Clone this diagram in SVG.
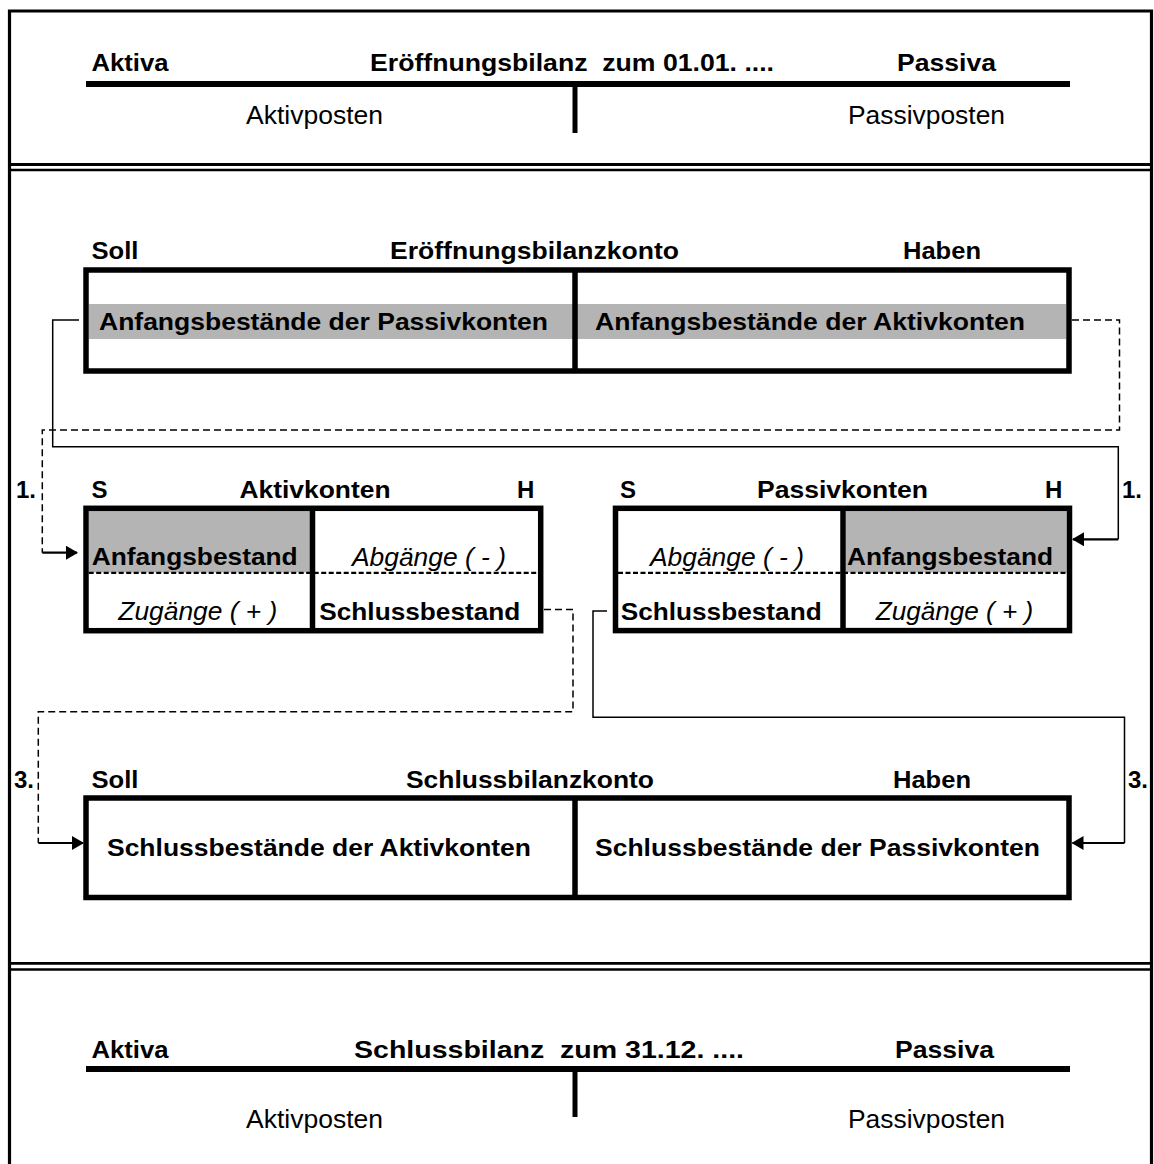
<svg xmlns="http://www.w3.org/2000/svg" width="1154" height="1164" viewBox="0 0 1154 1164">
<style>
.b{font-family:"Liberation Sans",Arial,sans-serif;font-weight:bold;font-size:24px;fill:#000}
.r{font-family:"Liberation Sans",Arial,sans-serif;font-size:25.5px;fill:#000}
.i{font-family:"Liberation Sans",Arial,sans-serif;font-style:italic;font-size:25px;fill:#000}
.box{fill:none;stroke:#000;stroke-width:5.5}
.div{stroke:#000;stroke-width:5.5}
.thin{fill:none;stroke:#000;stroke-width:1.5}
.dash{fill:none;stroke:#000;stroke-width:1.5;stroke-dasharray:7 4}
.arrow{stroke:#000;stroke-width:2.2}
.gray{fill:#b4b4b4}
.inner{stroke:#000;stroke-width:2.3;stroke-dasharray:5 2.5}
.frame{fill:none;stroke:#000;stroke-width:3.2}
.tline{stroke:#000;stroke-width:6}
.tvert{stroke:#000;stroke-width:5}
</style>
<defs>
<marker id="arr" viewBox="0 0 12 14" refX="11" refY="7" markerWidth="12" markerHeight="14" markerUnits="userSpaceOnUse" orient="auto">
<path d="M0,0 L12,7 L0,14 z" fill="#000"/>
</marker>
</defs>
<rect width="1154" height="1164" fill="#fff"/>

<g id="frame">
<path class="frame" d="M9.5,1170 V11 H1151.5 V1170"/>
<line x1="9" y1="164.5" x2="1152" y2="164.5" stroke="#000" stroke-width="3"/>
<line x1="9" y1="170" x2="1152" y2="170" stroke="#000" stroke-width="2.3"/>
<line x1="9" y1="963.3" x2="1152" y2="963.3" stroke="#000" stroke-width="2.7"/>
<line x1="9" y1="969.5" x2="1152" y2="969.5" stroke="#000" stroke-width="2.3"/>
</g>

<g id="eroeffnungsbilanz">
<text class="b" x="91.5" y="71" textLength="77" lengthAdjust="spacingAndGlyphs">Aktiva</text>
<text class="b" x="370" y="71" textLength="404" lengthAdjust="spacingAndGlyphs" xml:space="preserve">Eröffnungsbilanz  zum 01.01. ....</text>
<text class="b" x="897" y="71" textLength="99" lengthAdjust="spacingAndGlyphs">Passiva</text>
<line class="tline" x1="86" y1="84" x2="1070" y2="84"/>
<line class="tvert" x1="575" y1="84" x2="575" y2="133"/>
<text class="r" x="246" y="124" textLength="137" lengthAdjust="spacingAndGlyphs">Aktivposten</text>
<text class="r" x="848" y="124" textLength="157" lengthAdjust="spacingAndGlyphs">Passivposten</text>
</g>

<g id="eroeffnungsbilanzkonto">
<text class="b" x="91.5" y="259" textLength="47" lengthAdjust="spacingAndGlyphs">Soll</text>
<text class="b" x="390" y="259" textLength="289" lengthAdjust="spacingAndGlyphs">Eröffnungsbilanzkonto</text>
<text class="b" x="903" y="259" textLength="78" lengthAdjust="spacingAndGlyphs">Haben</text>
<rect class="gray" x="88.7" y="304" width="977.5" height="35"/>
<rect class="box" x="86" y="270" width="983" height="101"/>
<line class="div" x1="575" y1="270" x2="575" y2="371"/>
<text class="b" x="99" y="330" textLength="449" lengthAdjust="spacingAndGlyphs">Anfangsbestände der Passivkonten</text>
<text class="b" x="595" y="330" textLength="430" lengthAdjust="spacingAndGlyphs">Anfangsbestände der Aktivkonten</text>
</g>

<g id="aktivkonten">
<text class="b" x="16" y="498">1.</text>
<text class="b" x="91.5" y="498">S</text>
<text class="b" x="239.5" y="498" textLength="151" lengthAdjust="spacingAndGlyphs">Aktivkonten</text>
<text class="b" x="517" y="498">H</text>
<rect class="gray" x="88.7" y="511" width="221.5" height="61.5"/>
<line class="inner" x1="88.7" y1="572.8" x2="538" y2="572.8"/>
<rect class="box" x="86" y="508.3" width="454.7" height="122.4"/>
<line class="div" x1="312.5" y1="508.3" x2="312.5" y2="630.7"/>
<text class="b" x="91.7" y="565" textLength="206" lengthAdjust="spacingAndGlyphs">Anfangsbestand</text>
<text class="i" x="352" y="566" textLength="154" lengthAdjust="spacingAndGlyphs">Abgänge ( - )</text>
<text class="i" x="118.3" y="620" textLength="159" lengthAdjust="spacingAndGlyphs">Zugänge ( + )</text>
<text class="b" x="319.3" y="620" textLength="201" lengthAdjust="spacingAndGlyphs">Schlussbestand</text>
</g>

<g id="passivkonten">
<text class="b" x="620" y="498">S</text>
<text class="b" x="757" y="498" textLength="171" lengthAdjust="spacingAndGlyphs">Passivkonten</text>
<text class="b" x="1045" y="498">H</text>
<text class="b" x="1122" y="498">1.</text>
<rect class="gray" x="845.7" y="511" width="221" height="61.5"/>
<line class="inner" x1="618" y1="572.8" x2="1067" y2="572.8"/>
<rect class="box" x="615.5" y="508.3" width="454" height="122.3"/>
<line class="div" x1="843" y1="508.3" x2="843" y2="630.6"/>
<text class="i" x="650" y="566" textLength="154" lengthAdjust="spacingAndGlyphs">Abgänge ( - )</text>
<text class="b" x="847" y="565" textLength="206" lengthAdjust="spacingAndGlyphs">Anfangsbestand</text>
<text class="b" x="620.7" y="620" textLength="201" lengthAdjust="spacingAndGlyphs">Schlussbestand</text>
<text class="i" x="875.7" y="620" textLength="157.5" lengthAdjust="spacingAndGlyphs">Zugänge ( + )</text>
</g>

<g id="schlussbilanzkonto">
<text class="b" x="14" y="788">3.</text>
<text class="b" x="91.5" y="788" textLength="47" lengthAdjust="spacingAndGlyphs">Soll</text>
<text class="b" x="406" y="788" textLength="248" lengthAdjust="spacingAndGlyphs">Schlussbilanzkonto</text>
<text class="b" x="893" y="788" textLength="78" lengthAdjust="spacingAndGlyphs">Haben</text>
<text class="b" x="1128" y="788">3.</text>
<rect class="box" x="86" y="798" width="983" height="99.5"/>
<line class="div" x1="575" y1="798" x2="575" y2="897.5"/>
<text class="b" x="107" y="856" textLength="424" lengthAdjust="spacingAndGlyphs">Schlussbestände der Aktivkonten</text>
<text class="b" x="595" y="856" textLength="445" lengthAdjust="spacingAndGlyphs">Schlussbestände der Passivkonten</text>
</g>

<g id="schlussbilanz">
<text class="b" x="91.5" y="1058" textLength="77" lengthAdjust="spacingAndGlyphs">Aktiva</text>
<text class="b" x="354" y="1058" textLength="390" lengthAdjust="spacingAndGlyphs" xml:space="preserve">Schlussbilanz  zum 31.12. ....</text>
<text class="b" x="895" y="1058" textLength="99" lengthAdjust="spacingAndGlyphs">Passiva</text>
<line class="tline" x1="86" y1="1069" x2="1070" y2="1069"/>
<line class="tvert" x1="575" y1="1069" x2="575" y2="1117"/>
<text class="r" x="246" y="1128" textLength="137" lengthAdjust="spacingAndGlyphs">Aktivposten</text>
<text class="r" x="848" y="1128" textLength="157" lengthAdjust="spacingAndGlyphs">Passivposten</text>
</g>

<g id="connectors">
<path class="thin" d="M79,320 H52.7 V446.7 H1118.3 V539.3"/>
<line class="arrow" x1="1118.3" y1="539.3" x2="1073" y2="539.3" marker-end="url(#arr)"/>
<path class="dash" d="M1072,320 H1119.5 V430 H42.3 V552.7"/>
<line class="arrow" x1="42.3" y1="552.7" x2="77" y2="552.7" marker-end="url(#arr)"/>
<path class="dash" d="M544,609.5 H573 V711.7 H38.3 V843"/>
<line class="arrow" x1="38.3" y1="843" x2="83" y2="843" marker-end="url(#arr)"/>
<path class="thin" d="M607,611 H593 V717.3 H1124.5 V843"/>
<line class="arrow" x1="1124.5" y1="843" x2="1072.5" y2="843" marker-end="url(#arr)"/>
</g>
</svg>
